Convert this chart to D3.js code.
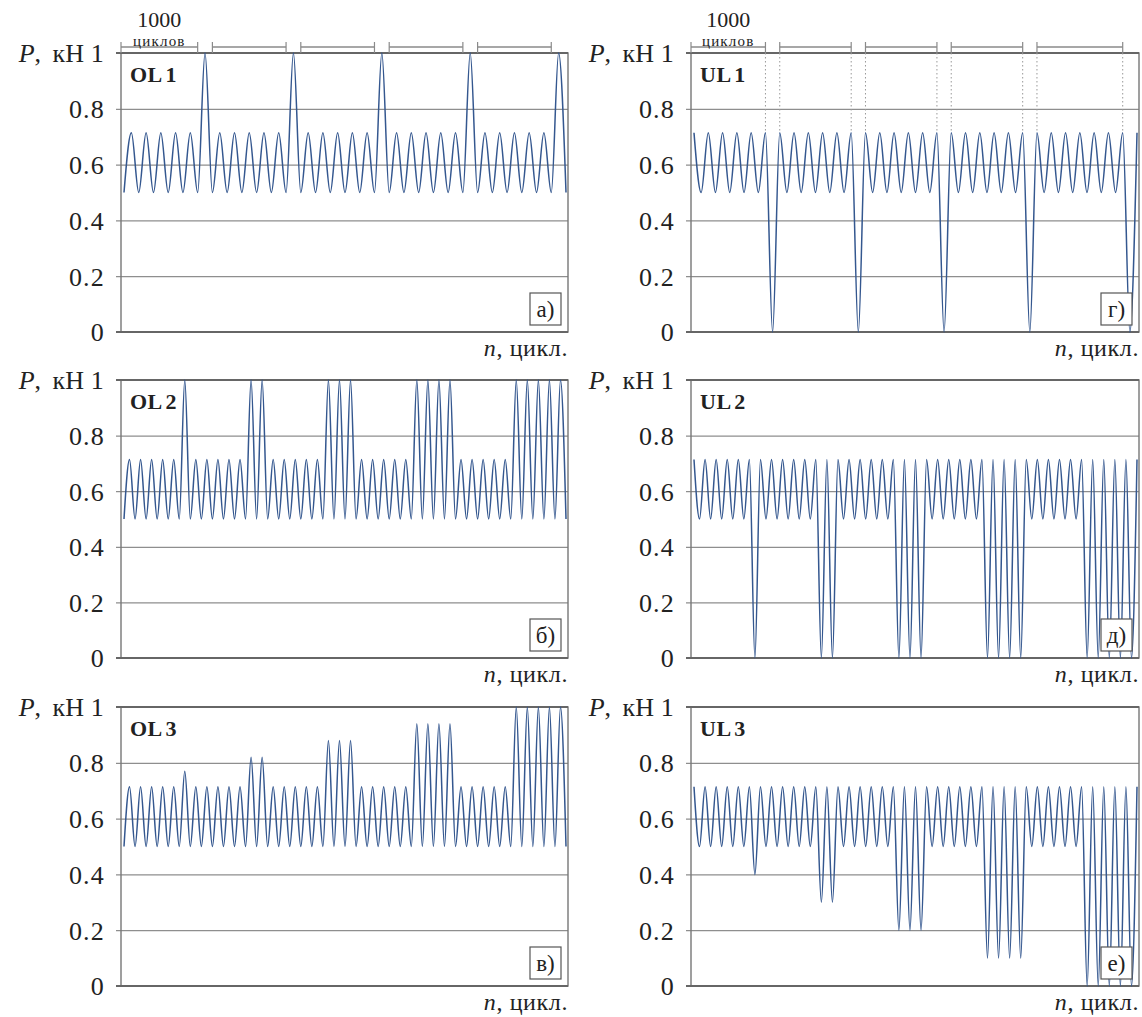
<!DOCTYPE html>
<html>
<head>
<meta charset="utf-8">
<script src="https://cdn.jsdelivr.net/npm/d3@7"></script>
<style>
  body { margin: 0; background: #fff; }
  svg text { font-family: "Liberation Serif", "Times New Roman", Tinos, serif; fill: #222; }
</style>
</head>
<body>
<script>
// base levels of the regular cycles
const OL_VALLEY = 0.5;
const UL_PEAK = 0.714;

// peak value of every cycle (overload programs)
const ol1Peaks = [
    0.714, 0.714, 0.714, 0.714, 0.714, 1,
    0.714, 0.714, 0.714, 0.714, 0.714, 1,
    0.714, 0.714, 0.714, 0.714, 0.714, 1,
    0.714, 0.714, 0.714, 0.714, 0.714, 1,
    0.714, 0.714, 0.714, 0.714, 0.714, 1
];
const ol2Peaks = [
    0.714, 0.714, 0.714, 0.714, 0.714, 1,
    0.714, 0.714, 0.714, 0.714, 0.714, 1, 1,
    0.714, 0.714, 0.714, 0.714, 0.714, 1, 1, 1,
    0.714, 0.714, 0.714, 0.714, 0.714, 1, 1, 1, 1,
    0.714, 0.714, 0.714, 0.714, 0.714, 1, 1, 1, 1, 1
];
const ol3Peaks = [
    0.714, 0.714, 0.714, 0.714, 0.714, 0.77,
    0.714, 0.714, 0.714, 0.714, 0.714, 0.82, 0.82,
    0.714, 0.714, 0.714, 0.714, 0.714, 0.88, 0.88, 0.88,
    0.714, 0.714, 0.714, 0.714, 0.714, 0.94, 0.94, 0.94, 0.94,
    0.714, 0.714, 0.714, 0.714, 0.714, 1, 1, 1, 1, 1
];

// valley value of every cycle (underload programs)
const ul1Valleys = [
    0.5, 0.5, 0.5, 0.5, 0.5, 0,
    0.5, 0.5, 0.5, 0.5, 0.5, 0,
    0.5, 0.5, 0.5, 0.5, 0.5, 0,
    0.5, 0.5, 0.5, 0.5, 0.5, 0,
    0.5, 0.5, 0.5, 0.5, 0.5, 0.5, 0
];
const ul2Valleys = [
    0.5, 0.5, 0.5, 0.5, 0.5, 0,
    0.5, 0.5, 0.5, 0.5, 0.5, 0, 0,
    0.5, 0.5, 0.5, 0.5, 0.5, 0, 0, 0,
    0.5, 0.5, 0.5, 0.5, 0.5, 0, 0, 0, 0,
    0.5, 0.5, 0.5, 0.5, 0.5, 0, 0, 0, 0, 0
];
const ul3Valleys = [
    0.5, 0.5, 0.5, 0.5, 0.5, 0.4,
    0.5, 0.5, 0.5, 0.5, 0.5, 0.3, 0.3,
    0.5, 0.5, 0.5, 0.5, 0.5, 0.2, 0.2, 0.2,
    0.5, 0.5, 0.5, 0.5, 0.5, 0.1, 0.1, 0.1, 0.1,
    0.5, 0.5, 0.5, 0.5, 0.5, 0, 0, 0, 0, 0
];

// "1000 циклов" brackets, as [first cycle, last cycle]
const ol1Brackets = [[0, 5], [6, 11], [12, 17], [18, 23], [24, 29]];
const ul1Brackets = [[0, 5], [6, 11], [12, 17], [18, 23], [24, 30]];

const yTicks = [0, 0.2, 0.4, 0.6, 0.8, 1];
const panelNames = ["OL 1", "OL 2", "OL 3", "UL 1", "UL 2", "UL 3"];
const panelLetters = ["а)", "б)", "в)", "г)", "д)", "е)"];

// layout
const cols = [[121, 568], [691, 1139]];
const rows = [[53, 332], [380, 658], [707, 986]];
const serif = "'Liberation Serif', 'Times New Roman', Tinos, serif";

const svg = d3.select("body").append("svg")
    .attr("width", 1142)
    .attr("height", 1017);

const panels = [
    { type: "OL", values: ol1Peaks, brackets: ol1Brackets },
    { type: "OL", values: ol2Peaks },
    { type: "OL", values: ol3Peaks },
    { type: "UL", values: ul1Valleys, brackets: ul1Brackets },
    { type: "UL", values: ul2Valleys },
    { type: "UL", values: ul3Valleys }
];

panels.forEach((p, i) => {
    const [x0, x1] = cols[Math.floor(i / 3)];
    const [top, bottom] = rows[i % 3];
    const w = x1 - x0;

    const x = d3.scaleLinear()
        .domain([0, p.values.length])
        .range([x0 + 3, x1 - 2]);
    const y = d3.scaleLinear()
        .domain([0, 1])
        .range([bottom, top]);

    const g = svg.append("g").attr("font-family", serif);

    // grid + tick labels
    const axis = g.append("g")
        .attr("transform", `translate(${x0},0)`)
        .call(d3.axisLeft(y).tickValues(yTicks).tickSizeOuter(0).tickFormat(d => String(d)))
        .attr("font-family", serif);
    axis.select(".domain").remove();
    axis.selectAll(".tick line")
        .attr("x1", -5)
        .attr("x2", w)
        .attr("stroke", "#8e8e8e")
        .attr("stroke-width", 1.2);
    axis.selectAll(".tick text")
        .attr("x", -16)
        .attr("dy", "0.34em")
        .style("font-size", "26px")
        .style("letter-spacing", "1.2px")
        .style("font-family", serif)
        .attr("fill", "#222");

    // frame
    g.append("rect")
        .attr("x", x0).attr("y", top)
        .attr("width", w).attr("height", bottom - top)
        .attr("fill", "none")
        .attr("stroke", "#777")
        .attr("stroke-width", 1.4);
    g.append("line")
        .attr("x1", x0 - 5).attr("x2", x1)
        .attr("y1", top).attr("y2", top)
        .attr("stroke", "#666").attr("stroke-width", 2);
    g.append("line")
        .attr("x1", x0 - 5).attr("x2", x1)
        .attr("y1", bottom).attr("y2", bottom)
        .attr("stroke", "#666").attr("stroke-width", 2);

    // brackets above the first row
    if (p.brackets) {
        const by = top - 6;
        p.brackets.forEach((b, k) => {
            const bx0 = k === 0 ? x0 : x(b[0]);
            const bx1 = x(b[1]);
            g.append("line")
                .attr("x1", bx0).attr("x2", bx1)
                .attr("y1", by).attr("y2", by)
                .attr("stroke", "#8a8a8a").attr("stroke-width", 1.4);
            [bx0, bx1].forEach(bx => {
                g.append("line")
                    .attr("x1", bx).attr("x2", bx)
                    .attr("y1", by - 5).attr("y2", top)
                    .attr("stroke", "#8a8a8a").attr("stroke-width", 1.2);
                if (p.type === "UL" && bx > x0 + 1) {
                    g.append("line")
                        .attr("x1", bx).attr("x2", bx)
                        .attr("y1", top).attr("y2", y(UL_PEAK))
                        .attr("stroke", "#999")
                        .attr("stroke-width", 1)
                        .attr("stroke-dasharray", "1.5,2.5");
                }
            });
        });
        const first = p.brackets[0];
        const cx = (x0 + x(first[1])) / 2;
        g.append("text")
            .attr("x", cx).attr("y", top - 26)
            .attr("text-anchor", "middle")
            .style("font-size", "22px")
            .text("1000");
        g.append("text")
            .attr("x", cx).attr("y", top - 7.5)
            .attr("text-anchor", "middle")
            .style("font-size", "15px")
            .style("letter-spacing", "1.2px")
            .text("циклов");
    }

    // waveform through the extremes of every cycle
    const pts = [];
    if (p.type === "OL") {
        pts.push([0, OL_VALLEY]);
        p.values.forEach((v, k) => {
            pts.push([k + 0.5, v]);
            pts.push([k + 1, OL_VALLEY]);
        });
    } else {
        pts.push([0, UL_PEAK]);
        p.values.forEach((v, k) => {
            pts.push([k + 0.5, v]);
            pts.push([k + 1, UL_PEAK]);
        });
    }
    const line = d3.line()
        .x(d => x(d[0]))
        .y(d => y(d[1]))
        .curve(d3.curveMonotoneX);
    g.append("path")
        .attr("d", line(pts))
        .attr("fill", "none")
        .attr("stroke", "#34578f")
        .attr("stroke-width", 1.5);

    // panel name
    g.append("text")
        .attr("x", x0 + 9).attr("y", top + 29)
        .style("font-size", "22px")
        .style("font-weight", "bold")
        .style("letter-spacing", "0.5px")
        .style("word-spacing", "-2px")
        .text(panelNames[i]);

    // letter box
    const bw = 31, bh = 32;
    const bxr = x1 - 7, byb = bottom - 7;
    g.append("rect")
        .attr("x", bxr - bw).attr("y", byb - bh)
        .attr("width", bw).attr("height", bh)
        .attr("fill", "#fff")
        .attr("stroke", "#555")
        .attr("stroke-width", 1.2);
    g.append("text")
        .attr("x", bxr - bw / 2).attr("y", byb - bh / 2 + 8)
        .attr("text-anchor", "middle")
        .style("font-size", "23px")
        .text(panelLetters[i]);

    // axis titles
    const yt = g.append("text")
        .attr("x", x0 - 37).attr("y", top + 8.5)
        .attr("text-anchor", "end")
        .style("font-size", "26px")
        .style("word-spacing", "5px");
    yt.append("tspan").style("font-style", "italic").text("P");
    yt.append("tspan").text(", кН");

    const xt = g.append("text")
        .attr("x", x1).attr("y", bottom + 24)
        .attr("text-anchor", "end")
        .style("font-size", "24px")
        .style("letter-spacing", "0.6px");
    xt.append("tspan").style("font-style", "italic").text("n");
    xt.append("tspan").text(", цикл.");
});
</script>
</body>
</html>
